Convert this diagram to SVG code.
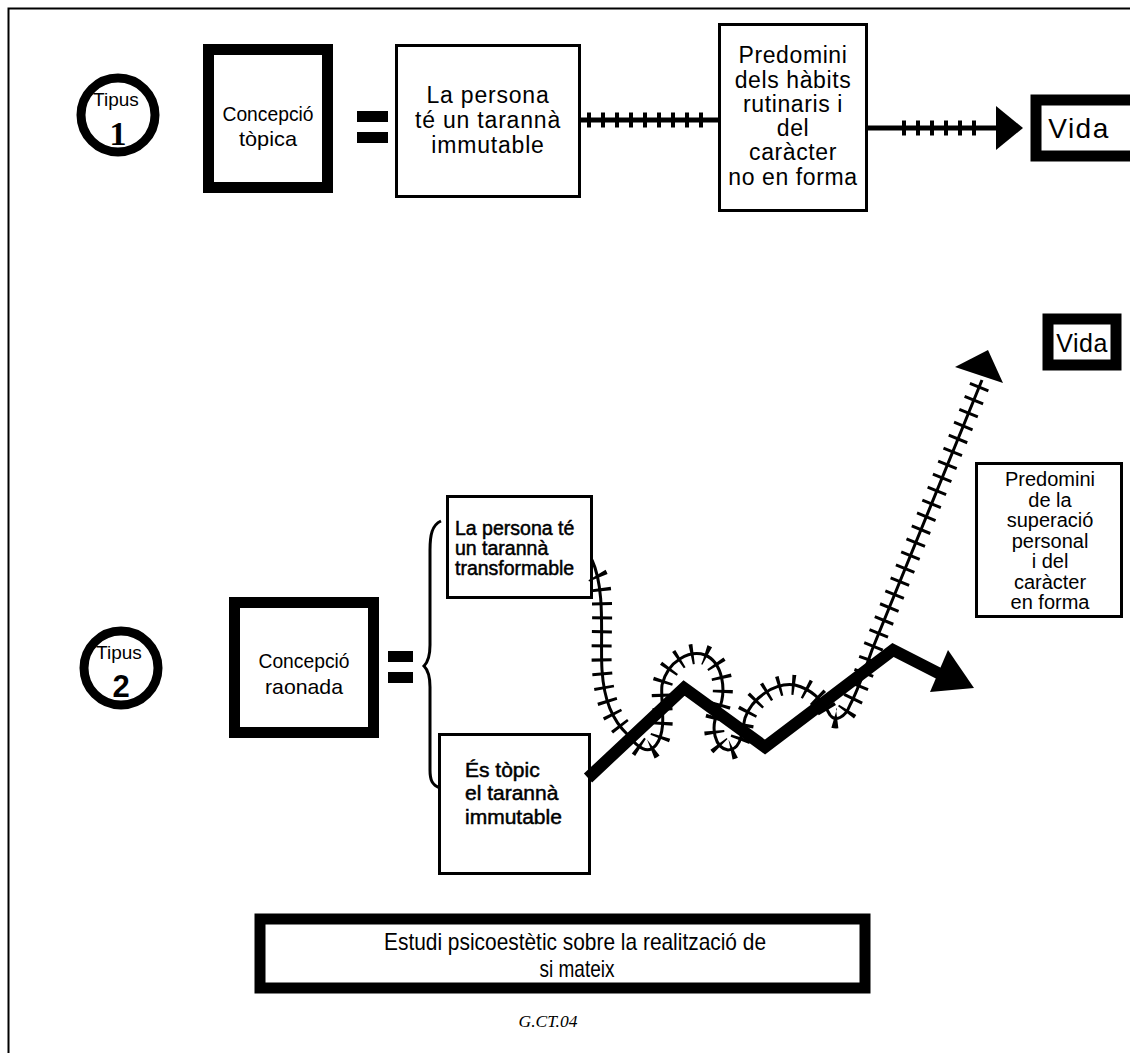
<svg xmlns="http://www.w3.org/2000/svg" width="1130" height="1053" viewBox="0 0 1130 1053">
<style>
.t{font-family:"Liberation Sans",Arial,sans-serif;fill:#000;text-anchor:middle}
.tl{font-family:"Liberation Sans",Arial,sans-serif;fill:#000;stroke:#000;stroke-width:0.5}
.thin{fill:#fff;stroke:#000;stroke-width:3}
.thick{fill:#fff;stroke:#000;stroke-width:11}
.ring{fill:#fff;stroke:#000;stroke-width:9}
.ln{fill:none;stroke:#000}
</style>
<rect width="1130" height="1053" fill="#fff"/>
<path d="M8.5,1053 V8.5 H1130" class="ln" stroke-width="2"/>

<g id="tipus1">
<circle cx="118" cy="115" r="37" class="ring"/>
<text x="116" y="106" class="t" font-size="19">Tipus</text>
<text x="118" y="145" font-family="Liberation Serif,serif" font-weight="bold" font-size="34" text-anchor="middle">1</text>
</g>
<g id="concepcio-topica">
<rect x="208.5" y="49.5" width="119" height="138" class="thick"/>
<text x="268" y="121" class="t" font-size="21" textLength="91" lengthAdjust="spacingAndGlyphs">Concepció</text>
<text x="268" y="146" class="t" font-size="21" textLength="58" lengthAdjust="spacingAndGlyphs">tòpica</text>
</g>
<g id="eq1">
<rect x="357" y="111" width="31" height="11"/>
<rect x="357" y="132" width="31" height="11"/>
</g>
<g id="persona-immutable">
<rect x="396.5" y="45.5" width="183" height="151" class="thin"/>
<text x="488" y="103" class="t" font-size="23" letter-spacing="0.8">La persona</text>
<text x="488" y="128" class="t" font-size="23" letter-spacing="0.8">té un tarannà</text>
<text x="488" y="153" class="t" font-size="23" letter-spacing="0.8">immutable</text>
</g>
<g id="predomini-habits">
<rect x="719.5" y="24.5" width="147" height="186" class="thin"/>
<text x="793" y="63" class="t" font-size="23" letter-spacing="0.6">Predomini</text>
<text x="793" y="88" class="t" font-size="23" letter-spacing="0.6">dels hàbits</text>
<text x="793" y="112" class="t" font-size="23" letter-spacing="0.6">rutinaris i</text>
<text x="793" y="136" class="t" font-size="23" letter-spacing="0.6">del</text>
<text x="793" y="160" class="t" font-size="23" letter-spacing="0.6">caràcter</text>
<text x="793" y="185" class="t" font-size="23" letter-spacing="0.6">no en forma</text>
</g>
<g id="vida1">
<rect x="1036" y="100" width="110" height="56" class="thick"/>
<text x="1079" y="138" class="t" font-size="28" letter-spacing="1.5">Vida</text>
</g>

<g id="tipus2">
<circle cx="121" cy="668" r="37" class="ring"/>
<text x="119" y="659" class="t" font-size="19">Tipus</text>
<text x="121" y="697" font-family="Liberation Sans,sans-serif" font-weight="bold" font-size="31" text-anchor="middle">2</text>
</g>
<g id="concepcio-raonada">
<rect x="234.5" y="602.5" width="139" height="130" class="thick"/>
<text x="304" y="668" class="t" font-size="21" textLength="91" lengthAdjust="spacingAndGlyphs">Concepció</text>
<text x="304" y="694" class="t" font-size="21" textLength="78" lengthAdjust="spacingAndGlyphs">raonada</text>
</g>
<g id="eq2">
<rect x="388" y="651" width="25" height="11"/>
<rect x="388" y="672" width="25" height="11"/>
</g>
<g id="brace">
<path d="M441,521 C432,525 430,535 430,550 L430,645 C430,655 428,662 424,666 C428,670 430,677 430,687 L430,770 C430,780 432,785 440,788" class="ln" stroke-width="3"/>
</g>
<g id="persona-transformable">
<rect x="447.5" y="496.5" width="144" height="101" class="thin" stroke-width="4"/>
<text x="455" y="535" class="tl" font-size="19.5">La persona té</text>
<text x="455" y="555" class="tl" font-size="19.5">un tarannà</text>
<text x="455" y="575" class="tl" font-size="19.5">transformable</text>
</g>
<g id="es-topic">
<rect x="439.5" y="734.5" width="150" height="139" class="thin" stroke-width="4"/>
<text x="465" y="777" class="tl" font-size="21">És tòpic</text>
<text x="465" y="800" class="tl" font-size="21">el tarannà</text>
<text x="465" y="824" class="tl" font-size="21">immutable</text>
</g>
<g id="vida2">
<rect x="1048" y="319" width="68" height="46" class="thick" stroke-width="10"/>
<text x="1082" y="352" class="t" font-size="25" letter-spacing="0.5">Vida</text>
</g>
<g id="predomini-superacio">
<rect x="976.5" y="463.5" width="145" height="153" class="thin"/>
<text x="1050" y="486" class="t" font-size="20">Predomini</text>
<text x="1050" y="506.5" class="t" font-size="20">de la</text>
<text x="1050" y="527" class="t" font-size="20">superació</text>
<text x="1050" y="547.5" class="t" font-size="20">personal</text>
<text x="1050" y="568" class="t" font-size="20">i del</text>
<text x="1050" y="588.5" class="t" font-size="20">caràcter</text>
<text x="1050" y="609" class="t" font-size="20">en forma</text>
</g>
<g id="titol">
<rect x="260" y="919" width="605" height="69" class="thick" stroke-width="10"/>
<text x="575" y="950" class="t" font-size="24" textLength="382" lengthAdjust="spacingAndGlyphs">Estudi psicoestètic sobre la realització de</text>
<text x="577" y="977" class="t" font-size="24" textLength="75" lengthAdjust="spacingAndGlyphs">si mateix</text>
</g>
<text x="548" y="1027" font-family="Liberation Serif,serif" font-style="italic" font-size="17.5" text-anchor="middle">G.CT.04</text>

<g id="connectors">
<line x1="581" y1="120" x2="718" y2="120" class="ln" stroke-width="5"/>
<line x1="587" y1="120" x2="710" y2="120" class="ln" stroke-width="15" stroke-dasharray="4 10"/>
<line x1="868" y1="128" x2="1000" y2="128" class="ln" stroke-width="5"/>
<line x1="902" y1="128" x2="985" y2="128" class="ln" stroke-width="15" stroke-dasharray="4 10"/>
<polygon points="996,106 1023,128 996,150"/>

<path d="M592,560 C606,590 600,640 602,670 C604,700 612,720 628,735 C638,748 648,755 656,745 C668,730 660,700 662,685 C668,660 690,650 705,655 C722,662 728,690 718,712 C710,728 715,748 728,750 C742,750 742,730 745,718 C752,698 775,682 795,685 C815,690 825,705 830,715 C835,722 845,718 850,705 C858,690 865,670 872,650 L982,380" class="ln" stroke-width="3"/>
<path d="M597,575 C606,590 600,640 602,670 C604,700 612,720 628,735 C638,748 648,755 656,745 C668,730 660,700 662,685 C668,660 690,650 705,655 C722,662 728,690 718,712 C710,728 715,748 728,750 C742,750 742,730 745,718 C752,698 775,682 795,685 C815,690 825,705 830,715 C835,722 845,718 850,705 C858,690 865,670 872,650 L980,385" class="ln" stroke-width="20" stroke-dasharray="3 11"/>
<polygon points="955,367 988,350 1003,383"/>

<polyline points="588,778 684,688 765,747 893,650 942,675" class="ln" stroke-width="12" stroke-linejoin="miter"/>
<polygon points="948,650 974,688 930,692"/>
</g>
</svg>
